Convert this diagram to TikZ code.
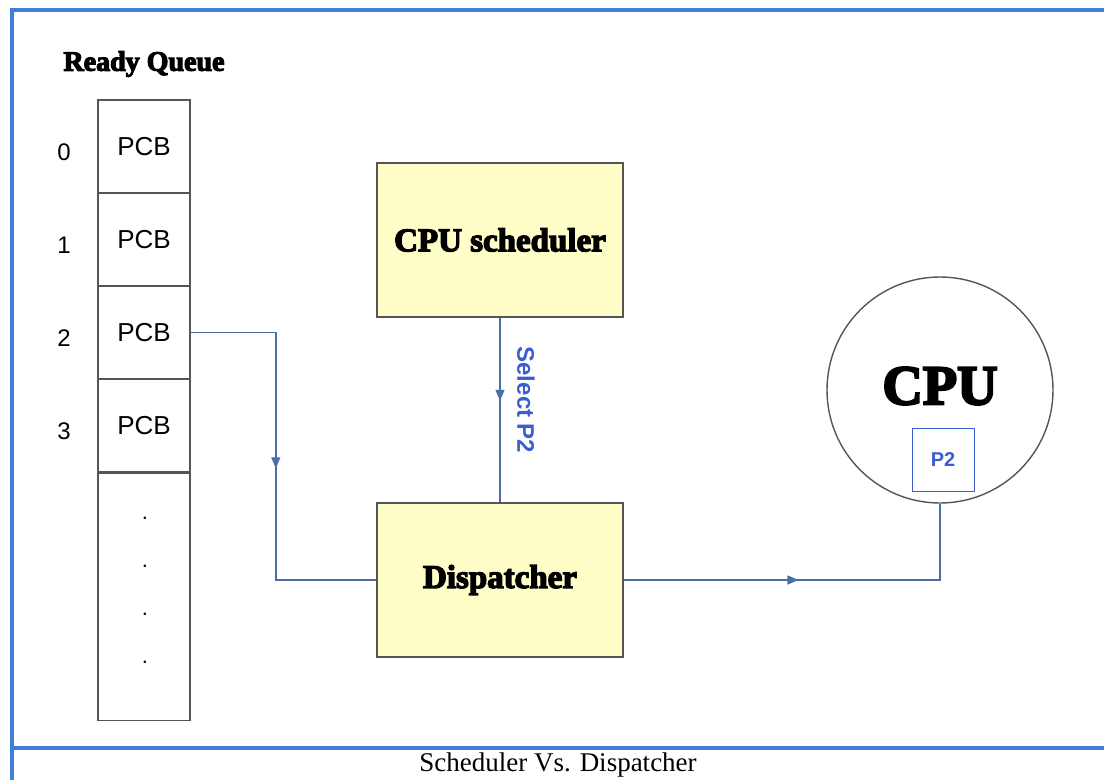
\documentclass[tikz,border=0pt]{standalone}
\usepackage{fontspec}
\setmainfont{Liberation Serif}
\setsansfont{Liberation Sans}
\newfontfamily\heavyfont[BoldFeatures={FakeBold=4}]{Liberation Serif}
\usepackage{tikz}
\usetikzlibrary{positioning, arrows.meta, decorations.markings}
\definecolor{frameblue}{HTML}{3F7FD8}
\definecolor{linkblue}{HTML}{4A6FA8}
\definecolor{textblue}{HTML}{3A5ED0}
\definecolor{boxyellow}{HTML}{FFFDC8}
\definecolor{edgegray}{HTML}{555555}
\tikzset{
	cell/.style={draw=edgegray, line width=1.6pt, minimum width=92pt, minimum height=93pt, inner sep=0pt, font=\sffamily\fontsize{26}{26}\selectfont},
	idx/.style={font=\sffamily\fontsize{24}{24}\selectfont},
	task/.style={draw=edgegray, fill=boxyellow, line width=1.6pt, minimum width=246pt, minimum height=154pt, font=\heavyfont\bfseries\fontsize{33}{33}\selectfont},
	link/.style={draw=linkblue, line width=1.4pt},
	midarrow/.style={postaction={decorate}, decoration={markings, mark=at position #1 with {\arrow{Triangle[length=11pt,width=9pt]}}}},
}
\begin{document}
\begin{tikzpicture}[x=1pt, y=-1pt]
	\useasboundingbox (0,0) rectangle (1104,780);
	% frame
	\draw[frameblue, line width=4pt] (12,780) -- (12,10) -- (1104,10);
	\draw[frameblue, line width=4pt] (12,748) -- (1104,748);
	
	\node[font=\heavyfont\bfseries\fontsize{28}{28}\selectfont] (title) at (144,64) {Ready Queue};
	
	% ready queue
	\foreach \i in {0,...,3}{
		\node[cell] (pcb\i) at (144,146.5+93*\i) {PCB};
		\node[idx] (n\i) at (64,152+93*\i) {\i};
	}
	\node[cell, minimum height=247pt, below=0pt of pcb3] (rest) {};
	\foreach \j in {0,...,3}{
		\node[font=\sffamily\fontsize{22}{22}\selectfont] (dot\j) at (145,518+48*\j) {.};
	}
	
	\node[task] (sched) at (500,240) {CPU scheduler};
	\node[task] (disp) at (500,580) {Dispatcher};
	
	\node[circle, draw=edgegray, line width=1.4pt, minimum size=226pt, inner sep=0pt] (cpu) at (940,390) {};
	\node[font=\heavyfont\bfseries\fontsize{56}{56}\selectfont] (cpulbl) at (940,386) {CPU};
	\node[draw=textblue, line width=1pt, minimum width=62pt, minimum height=63pt, text=textblue, font=\sffamily\bfseries\fontsize{20}{20}\selectfont] (p2) at (943,459.5) {P2};
	\node[rotate=-90, text=textblue, font=\sffamily\bfseries\fontsize{24}{24}\selectfont] (sel) at (526,400) {Select P2};
	
	% connectors
	\draw[link, midarrow=0.51] (pcb2.east) -- ++(85,0) |- (disp.west);
	\draw[link, midarrow=0.45] (sched.south) -- (disp.north);
	\draw[link, midarrow=0.445] (disp.east) -| (cpu.south);
	
	\node[font=\fontsize{27}{27}\selectfont] (caption) at (558,765) {Scheduler Vs. Dispatcher};
\end{tikzpicture}
\end{document}
